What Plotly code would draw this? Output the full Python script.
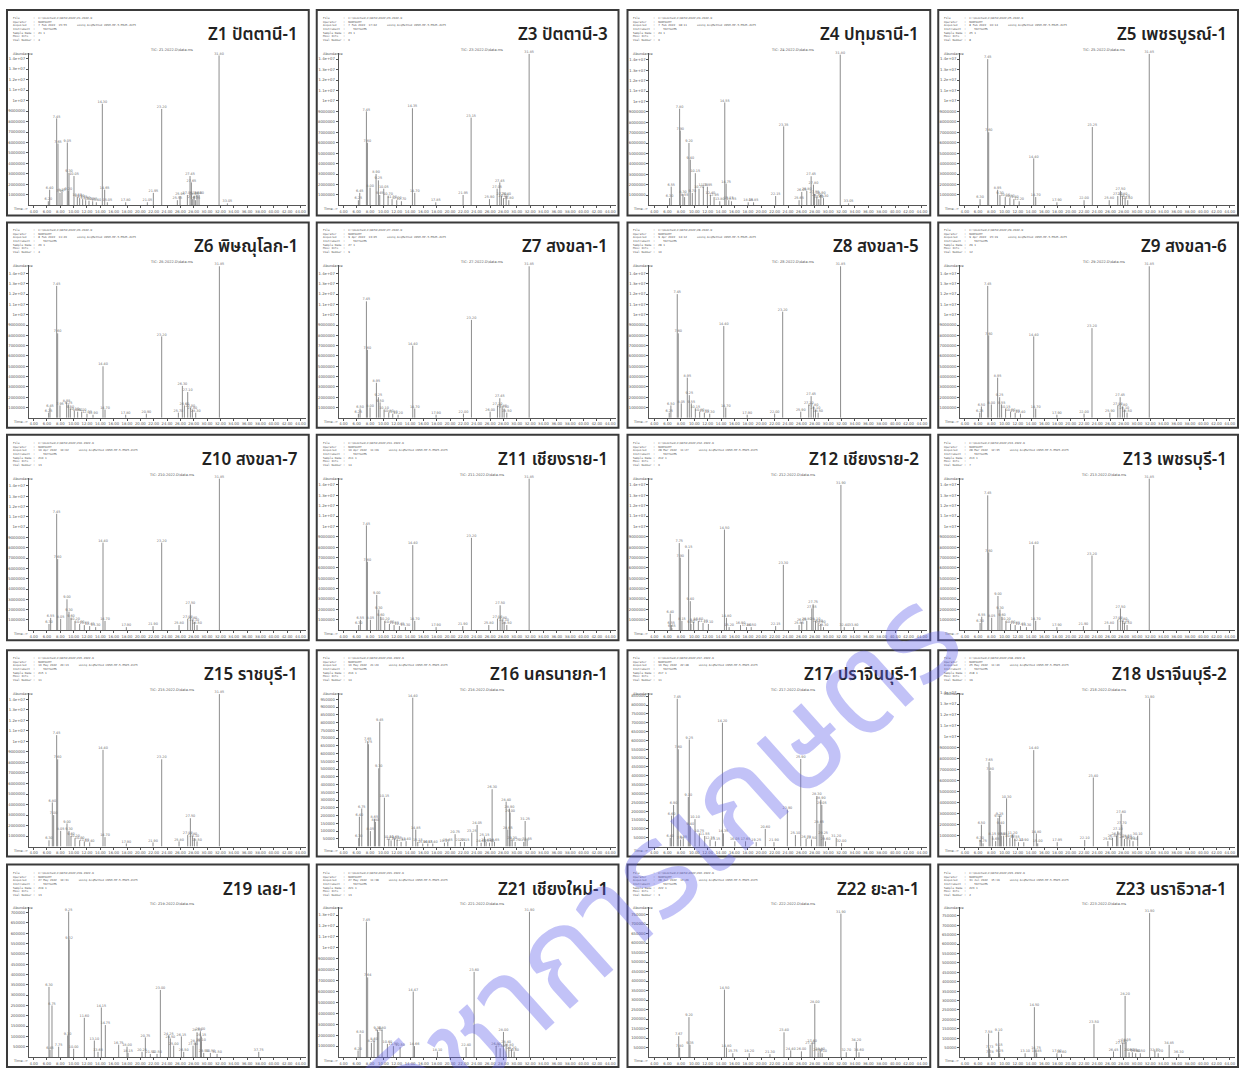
import plotly.graph_objects as go

W, H = 1244, 1068

# ---- retention times (min) and abundances of the labelled peaks, one pair per sample ----
Z1_RT = [6.20, 6.40, 7.45, 7.65, 7.95, 8.25, 9.05, 9.20, 9.30, 10.05, 10.55, 10.90, 11.35, 11.80, 12.30, 12.85, 13.40, 14.30, 14.65, 15.05, 17.80, 21.05, 21.95, 23.20, 25.55, 25.95, 27.05, 27.45, 27.65, 27.85, 28.05, 28.25, 28.50, 28.80, 31.80, 33.05]
Z1_AB = [400000, 1500000, 8300000, 5900000, 1200000, 1300000, 6000000, 1400000, 3100000, 2800000, 800000, 700000, 600000, 500000, 450000, 400000, 300000, 9700000, 1500000, 300000, 300000, 300000, 1200000, 9200000, 500000, 900000, 1000000, 2800000, 2200000, 600000, 900000, 500000, 1000000, 1000000, 14300000, 200000]

Z3_RT = [6.25, 6.45, 7.45, 7.60, 8.00, 8.90, 9.25, 9.45, 10.05, 10.70, 11.30, 12.00, 12.70, 14.35, 14.70, 17.85, 21.95, 23.15, 25.90, 27.05, 27.45, 27.70, 28.00, 28.40, 28.80, 31.85]
Z3_AB = [500000, 1200000, 9000000, 6000000, 1700000, 3000000, 2400000, 1000000, 1600000, 900000, 600000, 500000, 400000, 9300000, 1200000, 300000, 1000000, 8400000, 600000, 1600000, 2200000, 900000, 700000, 900000, 500000, 14500000]

Z4_RT = [6.30, 6.55, 7.80, 7.90, 8.30, 8.55, 9.20, 9.40, 9.70, 10.15, 10.70, 11.35, 11.95, 12.40, 12.95, 13.80, 14.55, 14.75, 15.15, 15.55, 18.05, 18.85, 22.15, 23.35, 25.65, 26.05, 26.80, 27.45, 27.80, 27.95, 28.30, 28.60, 28.90, 29.30, 31.80, 33.05]
Z4_AB = [700000, 1800000, 9300000, 7200000, 1100000, 800000, 6000000, 4400000, 1200000, 3100000, 1600000, 1800000, 1800000, 1000000, 800000, 400000, 9900000, 2100000, 500000, 400000, 300000, 300000, 900000, 7600000, 500000, 1300000, 1400000, 2800000, 2000000, 1100000, 800000, 600000, 1000000, 700000, 14500000, 200000]

Z5_RT = [6.30, 7.45, 7.60, 8.95, 9.30, 10.10, 10.80, 11.40, 12.20, 14.40, 14.70, 17.90, 22.00, 23.25, 25.80, 27.10, 27.50, 27.80, 28.20, 28.60, 31.85]
Z5_AB = [600000, 14000000, 7000000, 1500000, 1000000, 800000, 700000, 600000, 400000, 4500000, 800000, 300000, 500000, 7500000, 500000, 900000, 1400000, 900000, 700000, 500000, 14500000]

Z6_RT = [6.25, 6.45, 7.45, 7.60, 7.95, 8.95, 9.25, 9.50, 10.10, 10.60, 11.20, 12.00, 12.90, 14.40, 14.70, 17.80, 20.90, 23.20, 25.70, 26.30, 26.60, 27.10, 27.50, 27.80, 28.30, 31.85]
Z6_AB = [500000, 1000000, 12800000, 8200000, 1200000, 1500000, 1300000, 900000, 700000, 600000, 600000, 400000, 300000, 5000000, 800000, 300000, 400000, 7900000, 500000, 3100000, 1200000, 2500000, 1000000, 800000, 500000, 14700000]

Z7_RT = [6.25, 6.50, 7.45, 7.60, 8.00, 8.95, 9.25, 9.50, 10.10, 10.80, 11.40, 12.20, 14.40, 14.70, 17.90, 22.00, 23.20, 26.00, 27.10, 27.45, 27.80, 28.10, 28.50, 31.85]
Z7_AB = [400000, 900000, 11300000, 6600000, 1000000, 3400000, 2000000, 1500000, 800000, 500000, 400000, 300000, 7000000, 900000, 300000, 400000, 9500000, 600000, 1200000, 1900000, 1000000, 900000, 500000, 14700000]

Z8_RT = [6.25, 6.50, 7.45, 7.60, 8.05, 8.95, 9.25, 9.55, 10.15, 10.80, 11.50, 12.30, 14.40, 14.70, 17.90, 22.00, 23.20, 25.90, 27.10, 27.45, 27.80, 28.10, 28.50, 31.85]
Z8_AB = [500000, 1200000, 12000000, 8200000, 1400000, 3900000, 2200000, 1400000, 900000, 600000, 500000, 400000, 8900000, 1000000, 300000, 400000, 10300000, 600000, 1300000, 2100000, 1100000, 800000, 500000, 14700000]

Z9_RT = [6.25, 6.50, 7.45, 7.60, 8.00, 8.95, 9.25, 9.55, 10.15, 10.90, 11.60, 12.40, 14.40, 14.70, 17.90, 22.00, 23.20, 25.90, 27.10, 27.45, 27.80, 28.10, 28.50, 31.85]
Z9_AB = [500000, 1100000, 12800000, 8000000, 1300000, 3900000, 2000000, 1300000, 900000, 600000, 500000, 400000, 7900000, 900000, 300000, 400000, 8700000, 500000, 1200000, 2000000, 1100000, 800000, 500000, 14700000]

Z10_RT = [6.30, 6.55, 7.45, 7.60, 8.05, 9.00, 9.30, 9.60, 10.20, 10.90, 11.60, 12.40, 13.30, 14.40, 14.70, 17.90, 21.90, 23.20, 25.80, 27.10, 27.50, 27.80, 28.10, 28.50, 31.85]
Z10_AB = [600000, 1200000, 11300000, 6900000, 1100000, 3000000, 1800000, 1200000, 900000, 600000, 500000, 400000, 300000, 8500000, 900000, 300000, 400000, 8500000, 500000, 1100000, 2500000, 1000000, 800000, 500000, 14700000]

Z11_RT = [6.30, 6.55, 7.45, 7.60, 8.05, 9.00, 9.30, 9.60, 10.20, 10.90, 11.60, 12.40, 13.30, 14.40, 14.70, 17.90, 21.90, 23.20, 25.80, 27.10, 27.50, 27.80, 28.10, 28.50, 31.85]
Z11_AB = [500000, 1000000, 10100000, 6600000, 1000000, 3400000, 2000000, 1300000, 900000, 600000, 500000, 400000, 300000, 8200000, 900000, 300000, 400000, 8900000, 500000, 1100000, 2400000, 1000000, 800000, 500000, 14600000]

Z12_RT = [6.40, 6.55, 6.65, 7.75, 7.90, 8.15, 9.15, 9.40, 9.50, 9.90, 10.60, 11.30, 12.10, 14.50, 14.80, 15.20, 16.90, 17.80, 18.50, 22.15, 23.30, 25.65, 26.05, 26.80, 27.55, 27.75, 28.10, 28.50, 28.90, 29.30, 31.90, 32.40, 33.80]
Z12_AB = [1600000, 500000, 200000, 8400000, 7000000, 900000, 7800000, 2800000, 600000, 800000, 900000, 700000, 600000, 9700000, 1200000, 300000, 500000, 300000, 300000, 400000, 6300000, 500000, 800000, 900000, 2100000, 2500000, 900000, 700000, 600000, 300000, 14000000, 300000, 300000]

Z13_RT = [6.30, 6.55, 7.45, 7.60, 8.05, 9.00, 9.30, 9.60, 10.20, 10.90, 11.60, 12.40, 13.30, 14.40, 14.70, 17.90, 21.90, 23.20, 25.80, 27.10, 27.50, 27.80, 28.10, 28.50, 31.85]
Z13_AB = [700000, 1300000, 13000000, 7500000, 1200000, 3300000, 2000000, 1300000, 900000, 600000, 500000, 400000, 300000, 8200000, 900000, 300000, 400000, 7200000, 500000, 1000000, 2100000, 900000, 700000, 500000, 14600000]

Z15_RT = [6.30, 6.80, 7.00, 7.45, 7.60, 8.05, 9.00, 9.30, 9.60, 10.20, 10.90, 11.60, 12.40, 14.40, 14.70, 17.90, 21.90, 23.20, 25.80, 27.10, 27.50, 27.80, 28.10, 28.50, 31.85]
Z15_AB = [600000, 4200000, 3000000, 10600000, 8300000, 1500000, 2200000, 1500000, 1000000, 800000, 600000, 500000, 400000, 9200000, 900000, 300000, 400000, 8300000, 500000, 1100000, 2700000, 1000000, 800000, 500000, 14500000]

Z16_RT = [6.30, 6.40, 6.75, 7.65, 7.75, 8.05, 8.65, 8.80, 9.30, 9.45, 10.15, 10.80, 11.15, 11.65, 12.05, 12.65, 13.40, 14.40, 14.85, 15.15, 15.90, 16.65, 17.40, 19.15, 19.65, 20.75, 21.55, 22.15, 23.25, 24.05, 24.65, 25.15, 25.40, 25.90, 26.30, 26.65, 28.40, 28.65, 28.90, 29.00, 29.30, 29.75, 31.05, 31.25, 31.55]
Z16_AB = [55000, 193000, 246000, 680000, 660000, 100000, 180000, 160000, 505000, 805000, 315000, 50000, 40000, 50000, 45000, 30000, 35000, 960000, 110000, 30000, 20000, 20000, 20000, 25000, 30000, 80000, 30000, 30000, 90000, 140000, 25000, 65000, 30000, 25000, 370000, 30000, 290000, 110000, 245000, 220000, 45000, 30000, 30000, 165000, 40000]

Z17_RT = [6.40, 6.60, 6.90, 7.45, 7.60, 7.95, 8.35, 9.10, 9.25, 9.40, 10.10, 10.75, 11.55, 12.35, 13.15, 14.20, 14.35, 16.05, 17.65, 19.25, 20.60, 21.90, 23.90, 25.10, 25.90, 26.70, 27.50, 28.30, 28.65, 28.90, 29.05, 29.25, 29.60, 31.20, 32.00]
Z17_AB = [50000, 175000, 235000, 835000, 550000, 40000, 45000, 280000, 605000, 115000, 155000, 75000, 60000, 40000, 30000, 700000, 75000, 30000, 30000, 25000, 100000, 25000, 210000, 65000, 495000, 45000, 40000, 285000, 130000, 265000, 235000, 65000, 30000, 50000, 20000]

Z18_RT = [6.30, 6.50, 6.75, 7.65, 7.80, 8.15, 8.65, 9.00, 9.25, 9.40, 9.50, 9.85, 10.30, 10.80, 11.20, 11.55, 12.10, 12.90, 14.40, 14.80, 15.00, 17.95, 22.10, 23.40, 25.60, 26.30, 26.90, 27.10, 27.60, 27.70, 28.10, 28.50, 28.90, 29.40, 30.10, 31.90]
Z18_AB = [600000, 2000000, 300000, 7700000, 6900000, 1000000, 500000, 2600000, 2800000, 2000000, 1000000, 1000000, 4400000, 800000, 1100000, 700000, 400000, 400000, 8800000, 1200000, 300000, 400000, 600000, 6300000, 500000, 800000, 1000000, 1400000, 3000000, 2000000, 700000, 800000, 600000, 500000, 1000000, 13500000]

Z19_RT = [6.30, 6.45, 6.75, 7.75, 9.10, 9.25, 9.32, 10.00, 11.60, 13.10, 13.65, 14.15, 14.75, 16.75, 18.00, 18.15, 20.25, 20.75, 21.50, 22.50, 23.00, 24.25, 24.50, 25.00, 26.15, 26.50, 27.90, 28.25, 28.50, 29.00, 29.10, 29.15, 29.50, 30.50, 31.50, 37.75]
Z19_AB = [340000, 35000, 250000, 50000, 105000, 705000, 570000, 40000, 190000, 80000, 25000, 240000, 155000, 60000, 50000, 20000, 25000, 95000, 15000, 15000, 325000, 105000, 90000, 55000, 100000, 25000, 55000, 70000, 120000, 125000, 75000, 100000, 20000, 20000, 15000, 25000]

Z21_RT = [6.20, 6.50, 7.45, 7.64, 8.20, 8.60, 9.10, 9.30, 9.80, 10.60, 11.50, 12.50, 14.47, 14.66, 18.10, 22.40, 23.60, 26.90, 27.50, 28.00, 28.40, 28.80, 29.20, 29.60, 31.90]
Z21_AB = [600000, 2100000, 12400000, 7300000, 1300000, 1500000, 2500000, 2300000, 2500000, 1200000, 1000000, 900000, 6000000, 1000000, 500000, 900000, 7800000, 1000000, 800000, 2300000, 1200000, 900000, 700000, 500000, 13300000]

Z22_RT = [7.67, 7.80, 9.20, 9.35, 14.50, 14.80, 15.75, 18.20, 21.30, 23.40, 24.40, 26.00, 27.30, 27.60, 28.00, 28.50, 28.80, 29.10, 31.90, 32.70, 34.20, 34.60]
Z22_AB = [110000, 50000, 210000, 65000, 355000, 50000, 20000, 20000, 15000, 130000, 35000, 30000, 65000, 75000, 280000, 25000, 30000, 20000, 755000, 25000, 80000, 25000]

Z23_RT = [7.58, 7.73, 7.78, 9.10, 9.15, 9.25, 13.10, 14.50, 14.75, 14.85, 17.90, 18.60, 23.50, 26.45, 27.50, 27.85, 28.20, 28.35, 28.80, 29.30, 29.80, 30.50, 31.90, 32.70, 33.20, 34.85, 36.30]
Z23_AB = [125000, 45000, 15000, 135000, 55000, 20000, 20000, 265000, 40000, 20000, 20000, 15000, 175000, 30000, 65000, 75000, 325000, 80000, 25000, 25000, 20000, 20000, 765000, 30000, 20000, 65000, 15000]

# ---- sample names and run headers ----
CODES = ["Z1", "Z3", "Z4", "Z5", "Z6", "Z7", "Z8", "Z9", "Z10", "Z11", "Z12", "Z13",
         "Z15", "Z16", "Z17", "Z18", "Z19", "Z21", "Z22", "Z23"]
PLACES = ["ปัตตานี-1", "ปัตตานี-3", "ปทุมธานี-1", "เพชรบูรณ์-1",
          "พิษณุโลก-1", "สงขลา-1", "สงขลา-5", "สงขลา-6",
          "สงขลา-7", "เชียงราย-1", "เชียงราย-2", "เพชรบุรี-1",
          "ราชบุรี-1", "นครนายก-1", "ปราจีนบุรี-1", "ปราจีนบุรี-2",
          "เลย-1", "เชียงใหม่-1", "ยะลา-1", "นราธิวาส-1"]
ACQUIRED = ["7 Feb 2022  15:55", "7 Feb 2022  17:02", "7 Feb 2022  18:11", "8 Feb 2022  10:14",
            "8 Feb 2022  11:20", "9 Apr 2022  13:05", "9 Apr 2022  14:12", "9 Apr 2022  15:19",
            "10 Apr 2022  10:02", "10 Apr 2022  11:09", "28 Mar 2022  11:27", "28 Mar 2022  12:35",
            "16 May 2022  20:13", "16 May 2022  21:20", "16 May 2022  22:48", "25 May 2022  11:46",
            "27 May 2022  10:31", "27 May 2022  11:38", "28 Jul 2022  13:26", "31 Jul 2022  15:19"]
VIALS = [4, 6, 6, 8, 4, 9, 10, 12, 13, 14, 6, 7, 11, 14, 11, 19, 13, 13, 3, 2]

SERIES = [(Z1_RT, Z1_AB), (Z3_RT, Z3_AB), (Z4_RT, Z4_AB), (Z5_RT, Z5_AB),
          (Z6_RT, Z6_AB), (Z7_RT, Z7_AB), (Z8_RT, Z8_AB), (Z9_RT, Z9_AB),
          (Z10_RT, Z10_AB), (Z11_RT, Z11_AB), (Z12_RT, Z12_AB), (Z13_RT, Z13_AB),
          (Z15_RT, Z15_AB), (Z16_RT, Z16_AB), (Z17_RT, Z17_AB), (Z18_RT, Z18_AB),
          (Z19_RT, Z19_AB), (Z21_RT, Z21_AB), (Z22_RT, Z22_AB), (Z23_RT, Z23_AB)]

# abundance tick step and axis top for every chromatogram
TICK_STEP = [1e6] * 13 + [50000, 50000, 1e6, 50000, 1e6, 50000, 50000]
Y_TOP = [14.55e6, 14.6e6, 14.67e6, 14.6e6, 14.8e6, 14.8e6, 14.8e6, 14.8e6,
         14.8e6, 14.7e6, 14.7e6, 14.7e6, 14.6e6, 990000, 867500, 14.0e6,
         725000, 13.7e6, 787500, 795000]

TIME_TICKS = list(range(4, 46, 2))

# ---- page geometry (pixels) ----
COL_X = [(7, 309), (317, 619), (628, 931), (939, 1239)]
ROW_Y = [(7, 213), (220, 426), (433, 639), (649, 856), (864, 1067)]

THAI = "Noto Sans Thai, Leelawadee UI, Tahoma, Loma, Garuda, Noto Sans, sans-serif"
MONO = "DejaVu Sans Mono, Liberation Mono, monospace"


def px(x):
    return x / W


def py(y):
    return 1 - y / H


def abundance_label(v):
    if v >= 1e7:
        s = f"{v / 1e7:.1f}".rstrip("0").rstrip(".")
        return s + "e+07"
    return str(int(round(v)))


fig = go.Figure()
shapes, annotations = [], []

for i, code in enumerate(CODES):
    r, c = divmod(i, 4)
    x0, x1 = COL_X[c]
    y0, y1 = ROW_Y[r]
    rt, ab = SERIES[i]
    k = i + 1
    xa = "x" if k == 1 else f"x{k}"
    ya = "y" if k == 1 else f"y{k}"

    # panel frame
    shapes.append(dict(type="rect", xref="paper", yref="paper",
                       x0=px(x0), x1=px(x1), y0=py(y1), y1=py(y0),
                       line=dict(color="#3a3a3a", width=2), fillcolor="rgba(0,0,0,0)"))

    # peak sticks
    lx, ly = [], []
    for t, a in zip(rt, ab):
        lx += [t, t, None]
        ly += [0, a, None]
    fig.add_trace(go.Scatter(x=lx, y=ly, mode="lines", xaxis=xa, yaxis=ya,
                             line=dict(color="#808080", width=0.9),
                             hoverinfo="skip", showlegend=False))
    # retention-time labels
    fig.add_trace(go.Scatter(x=rt, y=ab, mode="text", xaxis=xa, yaxis=ya,
                             text=[f"{t:.2f}" for t in rt], textposition="top center",
                             textfont=dict(size=3.4, color="#707070", family="DejaVu Sans"),
                             cliponaxis=False, hoverinfo="skip", showlegend=False))

    step = TICK_STEP[i]
    n = int(Y_TOP[i] // step + 1e-9)
    yvals = [step * j for j in range(1, n + 1)]
    ax_font = dict(size=3.8, color="#555", family="DejaVu Sans")
    fig.layout[("xaxis" if k == 1 else f"xaxis{k}")] = dict(
        domain=[px(x0 + 22), px(x1 - 3)], anchor=ya, range=[3.3, 44.8],
        showline=True, linecolor="#555", linewidth=1, ticks="outside", ticklen=2,
        tickwidth=0.6, tickcolor="#555", tickvals=TIME_TICKS,
        ticktext=[f"{t:.2f}" for t in TIME_TICKS], tickangle=0, tickfont=ax_font,
        showgrid=False, zeroline=False, fixedrange=True)
    fig.layout[("yaxis" if k == 1 else f"yaxis{k}")] = dict(
        domain=[py(y1 - 10), py(y0 + 43)], anchor=xa, range=[0, Y_TOP[i]],
        showline=True, linecolor="#555", linewidth=1, ticks="outside", ticklen=2,
        tickwidth=0.6, tickcolor="#555", tickvals=yvals,
        ticktext=[abundance_label(v) for v in yvals], tickfont=ax_font,
        showgrid=False, zeroline=False, fixedrange=True)

    # run header block
    header = "<br>".join([
        f"File        :  C:\\msdchem\\1\\DATA\\2022\\{code}-2022.D",
        "Operator    :  NUNTACHT",
        f"Acquired    :  {ACQUIRED[i]}      using AcqMethod CNSH-HP-5-MS25-2CP5",
        "Instrument  :     5977GCMS",
        f"Sample Name :  {code} 1",
        "Misc Info   :",
        f"Vial Number :  {VIALS[i]}"])
    annotations.append(dict(xref="paper", yref="paper", x=px(x0 + 4), y=py(y0 + 4),
                            xanchor="left", yanchor="top", align="left", showarrow=False,
                            text=header, font=dict(size=2.8, color="#555", family=MONO)))
    # sample title
    annotations.append(dict(xref="paper", yref="paper", x=px(x1 - 9), y=py(y0 + 25),
                            xanchor="right", yanchor="middle", showarrow=False,
                            text=f"{code} {PLACES[i]}",
                            font=dict(size=17, color="#222", family=THAI, weight=600)))
    # TIC trace name
    annotations.append(dict(xref="paper", yref="paper", x=px(x0 + 165), y=py(y0 + 40),
                            xanchor="center", yanchor="middle", showarrow=False,
                            text=f"TIC: {code}-2022.D\\data.ms",
                            font=dict(size=3.5, color="#555", family="DejaVu Sans")))
    annotations.append(dict(xref="paper", yref="paper", x=px(x0 + 4), y=py(y0 + 44),
                            xanchor="left", yanchor="middle", showarrow=False,
                            text="Abundance", font=dict(size=3.5, color="#555", family="DejaVu Sans")))
    annotations.append(dict(xref="paper", yref="paper", x=px(x0 + 4), y=py(y1 - 6),
                            xanchor="left", yanchor="middle", showarrow=False,
                            text="Time-->", font=dict(size=3.5, color="#555", family="DejaVu Sans")))

# faint diagonal watermark
annotations.append(dict(xref="paper", yref="paper", x=px(668), y=py(866),
                        xanchor="center", yanchor="middle", showarrow=False,
                        text="วิชาการเกษตร", textangle=-42,
                        font=dict(size=132, color="rgba(95,95,235,0.38)", family=THAI)))

fig.update_layout(width=W, height=H, margin=dict(l=0, r=0, t=0, b=0),
                  paper_bgcolor="white", plot_bgcolor="white",
                  shapes=shapes, annotations=annotations, showlegend=False)

fig.write_html("out.html")
